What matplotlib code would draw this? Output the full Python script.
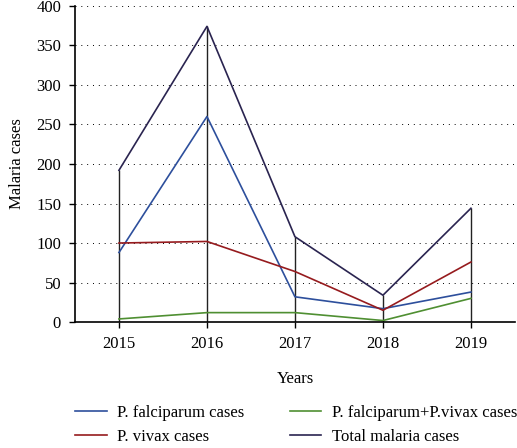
import numpy as np
import matplotlib.pyplot as plt
import matplotlib as mpl

mpl.rcParams.update({'font.family': 'serif',
                     'font.serif': ['Liberation Serif', 'DejaVu Serif'],
                     'font.size': 12})

years = [2015, 2016, 2017, 2018, 2019]
falciparum = [88, 260, 32, 17, 38]
vivax = [100, 102, 64, 15, 76]
mixed = [4, 12, 12, 2, 30]
total = [192, 374, 108, 34, 144]

fig = plt.figure(figsize=(5.17, 4.48), dpi=100)
ax = fig.add_axes([0.145, 0.281, 0.851, 0.706])

ax.vlines(years, 0, total, color='#222222', lw=1.0, zorder=1)
ax.plot(years, falciparum, color='#2d4f9c', lw=1.2, label='P. falciparum cases')
ax.plot(years, vivax, color='#961b1e', lw=1.2, label='P. vivax cases')
ax.plot(years, mixed, color='#4f8f32', lw=1.2, label='P. falciparum+P.vivax cases')
ax.plot(years, total, color='#2a2450', lw=1.2, label='Total malaria cases')

ax.set_xlim(2014.5, 2019.5)
ax.set_ylim(0, 400)
ax.set_xticks(years)
ax.set_yticks(np.arange(0, 401, 50))
ax.yaxis.grid(True, color='black', linestyle=(0, (1, 5)), lw=0.7)
ax.set_axisbelow(True)
for side in ['top', 'right']:
    ax.spines[side].set_visible(False)
ax.spines['left'].set_linewidth(1.2)
ax.spines['bottom'].set_linewidth(1.2)
ax.tick_params(direction='out', length=4, width=1.0, pad=6)

ax.set_xlabel('Years', labelpad=14)
ax.set_ylabel('Malaria cases', labelpad=8)

handles, labels = ax.get_legend_handles_labels()
fig.legend(handles, labels,
           loc='lower left', bbox_to_anchor=(0.116, -0.026), ncol=2, frameon=False,
           handlelength=1.9, handletextpad=0.65, columnspacing=2.7, labelspacing=0.45)

plt.savefig('out.png', dpi=100)
